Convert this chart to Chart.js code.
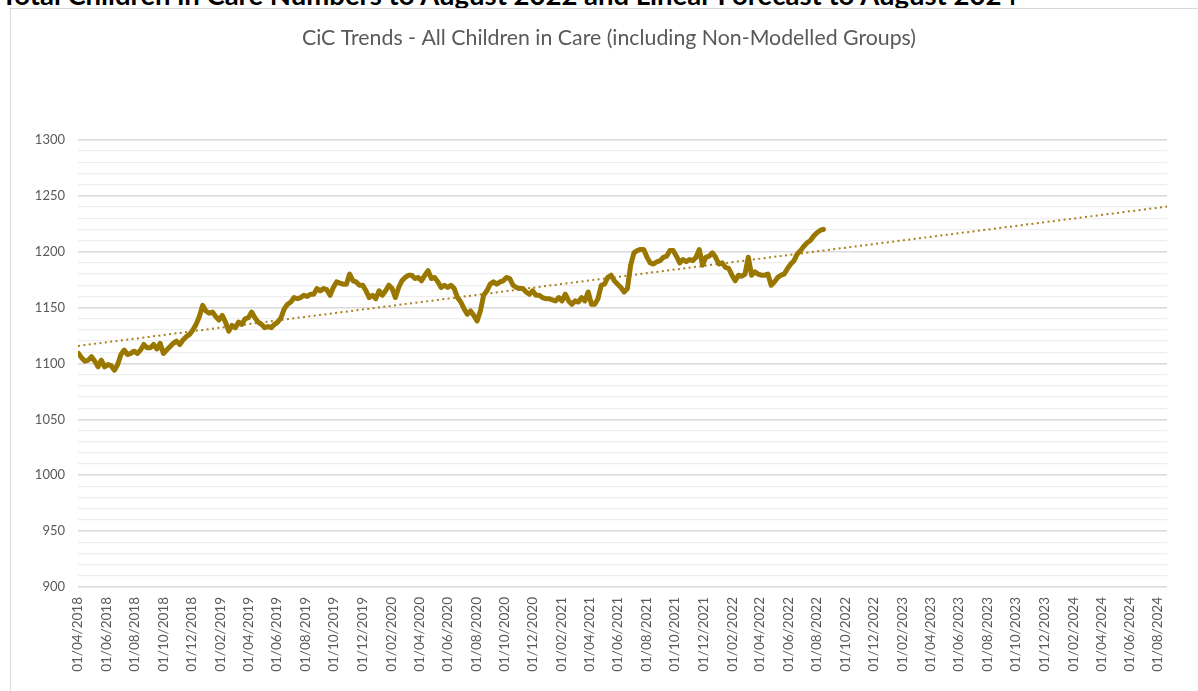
<!DOCTYPE html>
<html>
<head>
<meta charset="utf-8">
<title>CiC Trends</title>
<script src="https://cdn.jsdelivr.net/npm/chart.js@4.4.0/dist/chart.umd.min.js"></script>
<style>
  html, body { margin: 0; padding: 0; background: #fff; overflow: hidden; }
  body { width: 1198px; height: 691px; position: relative; }
  #heading {
    position: absolute; left: 1px; top: -22px; white-space: nowrap;
    font: bold 27.5px Lato, "Open Sans", sans-serif; color: #000;
  }
  #frame {
    position: absolute; left: 10px; top: 8px; width: 1200px; height: 700px;
    border: 1px solid #d9d9d9; box-sizing: border-box;
  }
  #chart { position: absolute; left: 0; top: 0; }
</style>
</head>
<body>
<div id="heading">Total Children in Care Numbers to August 2022 and Linear Forecast to August 2024</div>
<div id="frame"><canvas id="chart" width="1186" height="682"></canvas></div>
<script>
/* ── data ─────────────────────────────────────────────────────────── */
const TITLE = 'CiC Trends - All Children in Care (including Non-Modelled Groups)';

// weekly readings of the count of children in care
const START_DATE = '02/04/2018';
const STEP_DAYS  = 7;
const CHILDREN_IN_CARE = [
  1109, 1105, 1102, 1103, 1106, 1102, 1097, 1103, 1097, 1099, 1098, 1094, 1099, 1108, 1112, 1108,
  1109, 1111, 1109, 1112, 1117, 1114, 1114, 1117, 1113, 1118, 1109, 1112, 1115, 1118, 1120, 1117,
  1121, 1124, 1126, 1130, 1135, 1142, 1152, 1147, 1145, 1146, 1142, 1139, 1143,
  1137, 1129, 1134, 1132, 1137, 1135, 1140, 1141, 1146, 1141, 1137, 1135, 1132, 1133, 1132, 1135,
  1137, 1141, 1149, 1153, 1155, 1159, 1158, 1159, 1161, 1160, 1162, 1162, 1167, 1165, 1167, 1166,
  1161, 1168, 1173, 1172, 1171, 1171, 1180, 1174, 1173, 1170, 1170, 1165, 1159,
  1161, 1158, 1165, 1161, 1165, 1170, 1167, 1159, 1168, 1174, 1177, 1179, 1179, 1176, 1177, 1174,
  1179, 1183, 1176, 1177, 1173, 1168, 1170, 1168, 1170, 1167, 1159, 1155, 1149, 1144, 1147, 1143,
  1138, 1147, 1161, 1165, 1171, 1173, 1171, 1173, 1174, 1177, 1176, 1170, 1168, 1167,
  1167, 1164, 1162, 1165, 1161, 1161, 1159, 1158, 1158, 1157, 1156, 1159, 1156, 1162, 1156, 1153,
  1156, 1155, 1159, 1156, 1164, 1153, 1153, 1158, 1170, 1171, 1177, 1179, 1174, 1171, 1168, 1164,
  1167, 1188, 1199, 1201, 1202, 1202, 1195, 1190, 1189, 1191, 1192, 1195, 1196, 1201,
  1201, 1196, 1190, 1193, 1191, 1193, 1192, 1195, 1202, 1188, 1195, 1196, 1199, 1195, 1189, 1190,
  1186, 1185, 1179, 1174, 1179, 1178, 1180, 1195, 1179, 1182, 1180, 1179, 1179, 1180, 1170, 1173,
  1177, 1179, 1180, 1185, 1189, 1192, 1198, 1201, 1205, 1208, 1210, 1214, 1217, 1219, 1220
];

// linear trend / forecast, read at the two ends of the axis
const TREND_DATES  = ['01/04/2018', '20/08/2024'];
const TREND_VALUES = [1115.7, 1240.4];

const X_TICK_LABELS = [
  '01/04/2018', '01/06/2018', '01/08/2018', '01/10/2018', '01/12/2018',
  '01/02/2019', '01/04/2019', '01/06/2019', '01/08/2019', '01/10/2019', '01/12/2019',
  '01/02/2020', '01/04/2020', '01/06/2020', '01/08/2020', '01/10/2020', '01/12/2020',
  '01/02/2021', '01/04/2021', '01/06/2021', '01/08/2021', '01/10/2021', '01/12/2021',
  '01/02/2022', '01/04/2022', '01/06/2022', '01/08/2022', '01/10/2022', '01/12/2022',
  '01/02/2023', '01/04/2023', '01/06/2023', '01/08/2023', '01/10/2023', '01/12/2023',
  '01/02/2024', '01/04/2024', '01/06/2024', '01/08/2024'
];
const X_MIN_DATE = '01/04/2018';
const X_MAX_DATE = '20/08/2024';

const Y_MIN = 900, Y_MAX = 1300, Y_STEP = 10, Y_LABEL_EVERY = 50;

/* ── helpers ──────────────────────────────────────────────────────── */
// days since the start of the axis, from a dd/mm/yyyy string
function dayOf(s) {
  const [d, m, y] = s.split('/').map(Number);
  const [d0, m0, y0] = X_MIN_DATE.split('/').map(Number);
  return (Date.UTC(y, m - 1, d) - Date.UTC(y0, m0 - 1, d0)) / 86400000;
}

const startDay  = dayOf(START_DATE);
const cicPoints = CHILDREN_IN_CARE.map((v, i) => ({ x: startDay + i * STEP_DAYS, y: v }));
const trendPts  = TREND_DATES.map((d, i) => ({ x: dayOf(d), y: TREND_VALUES[i] }));
const tickDays  = X_TICK_LABELS.map(dayOf);

const cText  = '#595959';
const cGold  = '#997700';
const cTrend = '#a8821a';
const FONT   = "Lato, 'Open Sans', sans-serif";

/* ── chart ────────────────────────────────────────────────────────── */
new Chart(document.getElementById('chart'), {
  type: 'line',
  data: {
    datasets: [
      {
        label: 'All children in care',
        data: cicPoints,
        borderColor: cGold,
        borderWidth: 5,
        borderJoinStyle: 'round',
        borderCapStyle: 'round',
        pointRadius: 0,
        tension: 0,
      },
      {
        label: 'Linear forecast',
        data: trendPts,
        borderColor: cTrend,
        borderWidth: 2,
        borderDash: [2, 3.4],
        pointRadius: 0,
        tension: 0,
      },
    ],
  },
  options: {
    responsive: false,
    devicePixelRatio: 1,
    animation: false,
    layout: { padding: { left: 10, right: 0, top: 0, bottom: 0 } },
    plugins: {
      legend: { display: false },
      tooltip: { enabled: false },
      title: {
        display: true,
        text: TITLE,
        color: cText,
        font: { family: FONT, size: 21.3, weight: 'normal' },
        padding: { top: 16, bottom: 89.4 },
      },
    },
    scales: {
      x: {
        type: 'linear',
        min: dayOf(X_MIN_DATE),
        max: dayOf(X_MAX_DATE),
        afterBuildTicks: s => { s.ticks = tickDays.map(v => ({ value: v })); },
        afterFit: s => { s.height = 104; },
        grid: { display: false, drawTicks: false },
        border: { display: false },
        ticks: {
          autoSkip: false,
          minRotation: 90,
          maxRotation: 90,
          padding: 10,
          color: cText,
          font: { family: FONT, size: 13.5 },
          callback: (v, i) => X_TICK_LABELS[i],
        },
      },
      y: {
        min: Y_MIN,
        max: Y_MAX,
        afterFit: s => { s.width = 57; },
        border: { display: false },
        grid: {
          drawTicks: false,
          color: c => (c.tick.value % Y_LABEL_EVERY === 0 ? '#d9d9d9' : '#eeeeee'),
          lineWidth: c => (c.tick.value % Y_LABEL_EVERY === 0 ? 1.5 : 1.3),
        },
        ticks: {
          stepSize: Y_STEP,
          autoSkip: false,
          padding: 13,
          color: cText,
          font: { family: FONT, size: 13 },
          callback: v => (v % Y_LABEL_EVERY === 0 ? v : ''),
        },
      },
      // empty right-hand gutter, keeps the plot clear of the frame edge
      yGutter: {
        position: 'right',
        min: Y_MIN,
        max: Y_MAX,
        afterFit: s => { s.width = 30; },
        grid: { display: false, drawTicks: false },
        border: { display: false },
        ticks: { display: false },
      },
    },
  },
});
</script>
</body>
</html>
